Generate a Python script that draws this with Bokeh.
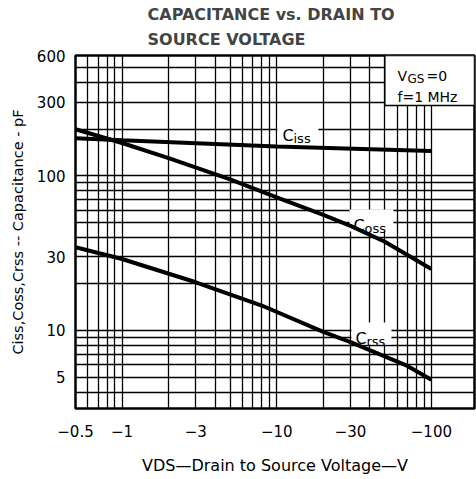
from bokeh.plotting import figure
from bokeh.models import FixedTicker, Label, BoxAnnotation, Range1d, Title
from bokeh.embed import file_html
from bokeh.resources import INLINE

# ---- data ----
vds_ciss = [0.5, 1, 10, 100]
ciss = [175, 170, 155, 145]

vds_coss = [0.5, 1, 2, 5, 10, 20, 30, 50, 100]
coss = [200, 163, 130, 95, 72.5, 56, 47.5, 37.5, 25]

vds_crss = [0.5, 1, 3, 8, 20, 30, 70, 100]
crss = [34.5, 29, 20.5, 14.5, 9.8, 8.4, 5.9, 4.8]

x_ticks = [0.5, 1, 3, 10, 30, 100]
x_tick_labels = ["\u22120.5", "\u22121", "\u22123", "\u221210", "\u221230", "\u2212100"]
y_ticks = [5, 10, 30, 100, 300, 600]
y_tick_labels = ["5", "10", "30", "100", "300", "600"]

x_grid_values = [0.5, 0.6, 0.7, 0.8, 0.9, 1, 2, 3, 4, 5, 6, 7, 8, 9,
                 10, 20, 30, 40, 50, 60, 70, 80, 90, 100]
y_grid_values = [4, 5, 6, 7, 8, 9, 10, 20, 30, 40, 50, 60, 70, 80, 90,
                 100, 200, 300, 400, 500]

title_lines = ["CAPACITANCE vs. DRAIN TO", "SOURCE VOLTAGE"]
x_title = "VDS\u2014Drain to Source Voltage\u2014V"
y_title = "Ciss,Coss,Crss -- Capacitance - pF"

X_START, X_END = 0.5, 190
Y_START, Y_END = 3.13, 600

# ---- layout constants (page pixels) ----
W_FIG, H_FIG = 476, 479
FRAME_L, FRAME_T, FRAME_R, FRAME_B = 75, 55, 474, 408
PX_PER_DEC = 154.7
FONT = "DejaVu Sans"

p = figure(width=W_FIG, height=H_FIG, x_axis_type="log", y_axis_type="log",
           x_range=Range1d(X_START, X_END), y_range=Range1d(Y_START, Y_END),
           output_backend="svg", toolbar_location=None,
           min_border_left=FRAME_L, min_border_right=W_FIG - FRAME_R,
           min_border_top=FRAME_T, min_border_bottom=H_FIG - FRAME_B)
p.background_fill_color = "white"
p.border_fill_color = "white"
p.outline_line_color = "black"
p.outline_line_width = 2.5

# title: two lines, left aligned (the added Title sits nearest the frame)
p.title.text = title_lines[0]
p.title.align = "left"
p.title.offset = 72
p.title.text_font = FONT
p.title.text_font_size = "16px"
p.title.text_font_style = "bold"
p.title.standoff = -4
t_low = Title(text=title_lines[1], align="left", offset=72, text_font=FONT,
              text_font_size="16px", text_font_style="bold", standoff=13)
p.add_layout(t_low, "above")

for ax in (p.xaxis[0], p.yaxis[0]):
    ax.axis_line_color = None
    ax.major_tick_line_color = None
    ax.minor_tick_line_color = None
    ax.major_label_text_font = FONT
    ax.major_label_text_font_size = "15px"
    ax.major_label_text_color = "black"
    ax.axis_label_text_font = FONT
    ax.axis_label_text_font_style = "normal"
    ax.axis_label_text_color = "black"

p.xaxis.ticker = FixedTicker(ticks=x_ticks)
p.xaxis.major_label_overrides = {t: s for t, s in zip(x_ticks, x_tick_labels)}
p.xaxis.major_label_standoff = 10
p.xaxis.axis_label = x_title
p.xaxis.axis_label_text_font_size = "16px"
p.xaxis.axis_label_standoff = 16

p.yaxis.ticker = FixedTicker(ticks=y_ticks)
p.yaxis.major_label_overrides = {t: s for t, s in zip(y_ticks, y_tick_labels)}
p.yaxis.major_label_standoff = 4
p.yaxis.axis_label = y_title
p.yaxis.axis_label_text_font_size = "14.5px"
p.yaxis.axis_label_standoff = 8

p.xgrid.ticker = FixedTicker(ticks=x_grid_values)
p.ygrid.ticker = FixedTicker(ticks=y_grid_values)
for g in (p.xgrid[0], p.ygrid[0]):
    g.grid_line_color = "black"
    g.grid_line_width = 1.3
    g.grid_line_alpha = 1.0


def fx(px):
    return X_START * 10 ** ((px - FRAME_L) / PX_PER_DEC)


def fy(py):
    return Y_START * 10 ** ((FRAME_B - py) / PX_PER_DEC)


# white backgrounds behind curve labels (drawn before curves)
bg = [(277, 318, 120, 142), (349, 393, 209, 231), (351, 391, 322, 344)]
p.quad(left=[fx(b[0]) for b in bg], right=[fx(b[1]) for b in bg],
       top=[fy(b[2]) for b in bg], bottom=[fy(b[3]) for b in bg],
       fill_color="white", line_color=None)

p.line(vds_ciss, ciss, line_width=4, color="black")
p.line(vds_coss, coss, line_width=4, color="black")
p.line(vds_crss, crss, line_width=4, color="black")

# condition box (top right)
p.add_layout(BoxAnnotation(left=50, bottom=285, fill_color="white", fill_alpha=1.0,
                           line_color="black", line_width=1.5, line_alpha=1.0))


def put(text, px, py, size):
    # inside the frame: anchored at the frame corner with pixel offsets
    p.add_layout(Label(x=X_START, y=Y_START, x_offset=px - FRAME_L, y_offset=FRAME_B - py,
                       text=text, text_font=FONT, text_font_size=f"{size}px",
                       text_color="black", text_align="left", text_baseline="alphabetic"))


# conditions
put("V", 397, 75, 14)
put("GS", 407, 78, 12)
put("=0", 426, 75, 14)
put("f=1 MHz", 397, 96, 14)

# curve labels
put("C", 282, 135, 16)
put("iss", 293, 138, 13)
put("C", 353, 225, 16)
put("oss", 364, 228, 13)
put("C", 355, 338, 16)
put("rss", 366, 341, 13)

open("out.html", "w").write(file_html(p, INLINE))
